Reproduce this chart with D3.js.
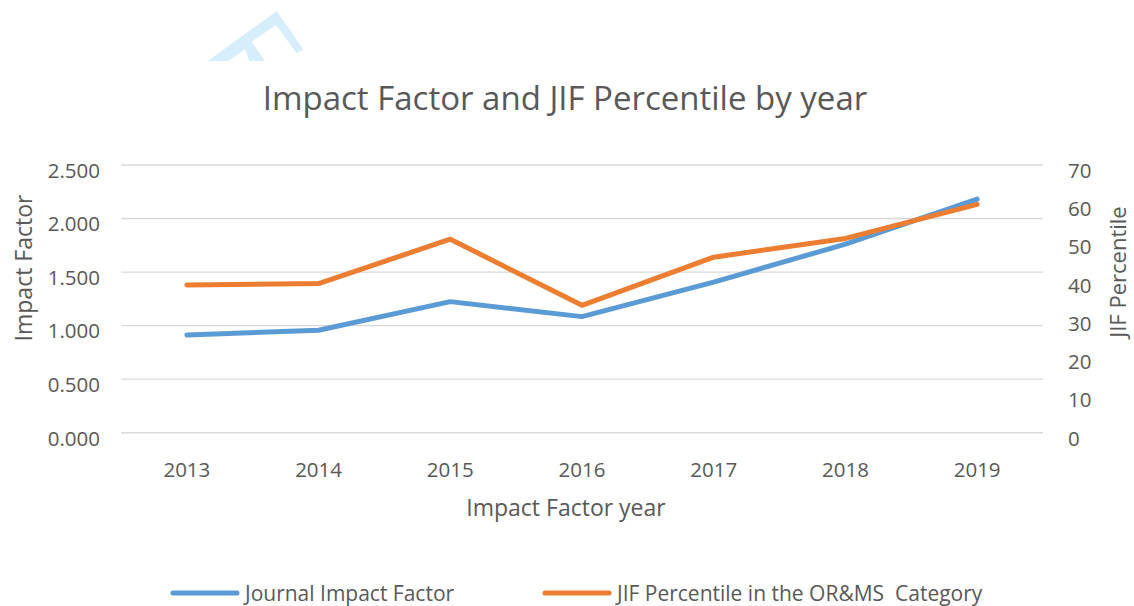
<!DOCTYPE html>
<html>
<head>
<meta charset="utf-8">
<script src="https://cdn.jsdelivr.net/npm/d3@7"></script>
<style>
  html, body { margin: 0; padding: 0; background: #fff; }
  svg { display: block; }
  svg text { font-family: "Open Sans", sans-serif; }
</style>
</head>
<body>
<svg id="chart" width="1134" height="606"></svg>
<script>
const years = ["2013", "2014", "2015", "2016", "2017", "2018", "2019"];
const impactFactor = [0.913, 0.957, 1.224, 1.084, 1.406, 1.761, 2.181];
const jifPercentile = [38.6, 39.0, 50.6, 33.3, 45.9, 50.8, 59.7];
const leftTicks = [0, 0.5, 1.0, 1.5, 2.0, 2.5];
const rightTicks = [0, 10, 20, 30, 40, 50, 60, 70];
const seriesNames = ["Journal Impact Factor", "JIF Percentile in the OR&MS  Category"];
const colors = ["#5B9BD5", "#ED7D31"];

const svg = d3.select("#chart");
const textColor = "#595959";
const FONT = "'Open Sans', sans-serif";

// watermark decoration
const wm = [[173,183],[380,33],[460,148],[440,160],[378,75],[305,125],[345,183],[298,183],[285,148],[235,183]];
svg.append("path")
  .attr("d", "M" + wm.map(p => [p[0]/3 + 150, p[1]/3].join(",")).join("L") + "Z")
  .attr("fill", "#D6EEFB");

const plot = { left: 121, right: 1043, top: 165, bottom: 432.7 };

const x = d3.scaleBand().domain(years).range([plot.left, plot.right]);
const yL = d3.scaleLinear().domain([0, 2.5]).range([plot.bottom, plot.top]);
const yR = d3.scaleLinear().domain([0, 70]).range([plot.bottom, plot.top]);

// gridlines
svg.append("g").selectAll("line").data(leftTicks).join("line")
  .attr("x1", plot.left).attr("x2", plot.right)
  .attr("y1", d => yL(d)).attr("y2", d => yL(d))
  .attr("stroke", "#D9D9D9").attr("stroke-width", 1.4);

// left axis
const leftAxis = d3.axisLeft(yL).tickValues(leftTicks).tickFormat(d3.format(".3f")).tickSize(0).tickPadding(21);
const gL = svg.append("g").attr("transform", `translate(${plot.left},0)`).call(leftAxis)
  .attr("font-family", FONT).attr("font-size", 20.5);
gL.select(".domain").remove();
gL.selectAll("text").attr("fill", textColor).attr("dy", "0.6em");

// right axis
const rightAxis = d3.axisRight(yR).tickValues(rightTicks).tickSize(0).tickPadding(25);
const gR = svg.append("g").attr("transform", `translate(${plot.right},0)`).call(rightAxis)
  .attr("font-family", FONT).attr("font-size", 20.5);
gR.select(".domain").remove();
gR.selectAll("text").attr("fill", textColor).attr("dy", "0.6em");

// bottom axis
const bottomAxis = d3.axisBottom(x).tickSize(0).tickPadding(30);
const gB = svg.append("g").attr("transform", `translate(0,${plot.bottom})`).call(bottomAxis)
  .attr("font-family", FONT).attr("font-size", 20.5);
gB.select(".domain").remove();
gB.selectAll("text").attr("fill", textColor);

// lines
const lineL = d3.line().x((d, i) => x(years[i]) + x.bandwidth() / 2).y(d => yL(d));
const lineR = d3.line().x((d, i) => x(years[i]) + x.bandwidth() / 2).y(d => yR(d));

svg.append("path").datum(impactFactor).attr("d", lineL)
  .attr("fill", "none").attr("stroke", colors[0]).attr("stroke-width", 5)
  .attr("stroke-linecap", "round").attr("stroke-linejoin", "round");
svg.append("path").datum(jifPercentile).attr("d", lineR)
  .attr("fill", "none").attr("stroke", colors[1]).attr("stroke-width", 5)
  .attr("stroke-linecap", "round").attr("stroke-linejoin", "round");

// title
svg.append("text").attr("x", 565).attr("y", 110).attr("text-anchor", "middle")
  .attr("fill", textColor).style("font-size", "33px")
  .text("Impact Factor and JIF Percentile by year");

// axis titles
svg.append("text").attr("x", 566).attr("y", 516).attr("text-anchor", "middle")
  .attr("fill", textColor).style("font-size", "23px").text("Impact Factor year");
svg.append("text").attr("transform", "translate(32,268) rotate(-90)").attr("text-anchor", "middle")
  .attr("fill", textColor).style("font-size", "23px").text("Impact Factor");
svg.append("text").attr("transform", "translate(1126,272) rotate(-90)").attr("text-anchor", "middle")
  .attr("fill", textColor).style("font-size", "22px").text("JIF Percentile");

// legend
const legendX = [173, 545];
const lg = svg.append("g").selectAll("g").data(seriesNames).join("g")
  .attr("transform", (d, i) => `translate(${legendX[i]},593)`);
lg.append("line").attr("x1", 0).attr("x2", 64).attr("y1", 0).attr("y2", 0)
  .attr("stroke", (d, i) => colors[i]).attr("stroke-width", 5).attr("stroke-linecap", "round");
lg.append("text").attr("x", 72).attr("y", 7.5).attr("fill", textColor)
  .style("font-size", "21px").style("white-space", "pre").attr("xml:space", "preserve").text(d => d);
</script>
</body>
</html>
